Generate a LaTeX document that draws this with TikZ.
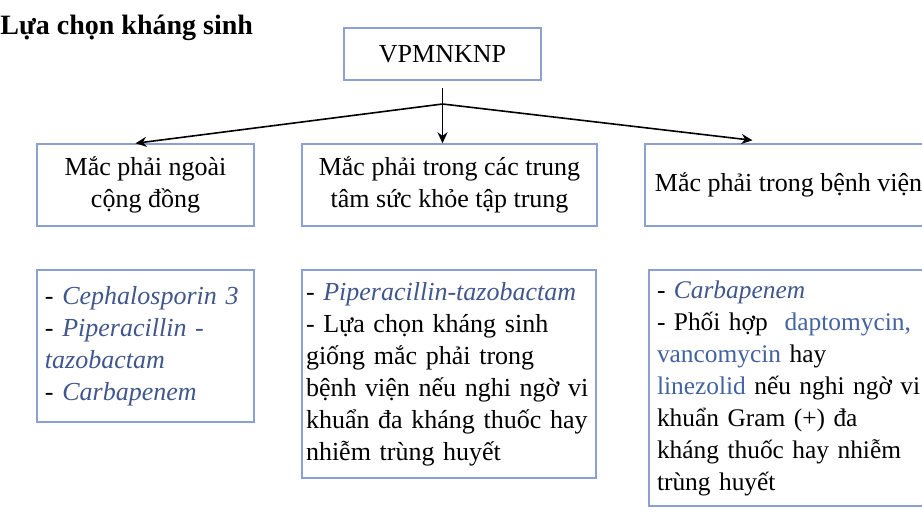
\documentclass[tikz,border=0pt]{standalone}
\usepackage{fontspec}
\setmainfont{Liberation Serif}
\usetikzlibrary{positioning, arrows.meta}
\definecolor{boxblue}{RGB}{141,160,212}
\definecolor{drugblue}{RGB}{64,86,140}
\definecolor{linkblue}{RGB}{66,98,160}
\newcommand{\drug}[1]{\textcolor{drugblue}{\textit{#1}}}
\newcommand{\drugup}[1]{\textcolor{linkblue}{#1}}

\begin{document}
\begin{tikzpicture}[
		x=0.5pt, y=-0.5pt,
		>={Stealth[length=5.5pt, width=5pt]},
		tbox/.style={draw=boxblue, line width=0.7pt, align=center, inner sep=4pt, font=\fontsize{13}{16}\selectfont},
		lbox/.style={draw=boxblue, line width=0.7pt, align=left, inner sep=2pt, font=\fontsize{13}{16}\selectfont},
	]

	\useasboundingbox (0,0) rectangle (922,514);
	\clip (0,0) rectangle (922,514);

	\node[font=\fontsize{14}{17}\selectfont\bfseries, anchor=base west, inner sep=0] (title) at (0,34) {Lựa chọn kháng sinh};

	\node[tbox, minimum width=98.5pt, minimum height=26pt] (root) at (442.5, 54) {VPMNKNP};

	\node[tbox, minimum width=108.5pt, minimum height=41pt] (a1) at (145.5, 185) {Mắc phải ngoài\\cộng đồng};
	\node[tbox, minimum width=147.5pt, minimum height=41pt] (a2) at (449.5, 185) {Mắc phải trong các trung\\tâm sức khỏe tập trung};
	\node[tbox, minimum width=143.5pt, minimum height=41pt] (a3) at (788.5, 185) {Mắc phải trong bệnh viện};

	\node[lbox, inner xsep=4pt, text width=100.5pt, minimum height=76pt] (b1) at (145.5, 346) {- \drug{Cephalosporin 3}\\- \drug{Piperacillin -}\\\drug{tazobactam}\\- \drug{Carbapenem}};
	\node[lbox, text width=143pt, minimum height=104pt] (b2) at (449, 374) {- \drug{Piperacillin-tazobactam}\\- Lựa chọn kháng sinh\\giống mắc phải trong\\bệnh viện nếu nghi ngờ vi\\khuẩn đa kháng thuốc hay\\nhiễm trùng huyết};
	\node[lbox, inner xsep=4pt, text width=152pt, minimum height=118pt, font=\fontsize{12.7}{16}\selectfont] (b3) at (809, 388) {- \drug{Carbapenem}\\- Phối hợp\ \ \drugup{daptomycin,}\\\drugup{vancomycin} hay\\\drugup{linezolid} nếu nghi ngờ vi\\khuẩn Gram (+) đa\\kháng thuốc hay nhiễm\\trùng huyết};

	\coordinate (fork) at (442.5, 104);

	\draw[->, line width=0.8pt] ([yshift=-3.5pt]root.south) -- (root.south |- a2.north);
	\draw[->, line width=0.8pt] (fork) -- ([xshift=-5pt]a1.north);
	\draw[->, line width=0.8pt] (fork) -- ([xshift=-18pt, yshift=1.5pt]a3.north);
\end{tikzpicture}
\end{document}
